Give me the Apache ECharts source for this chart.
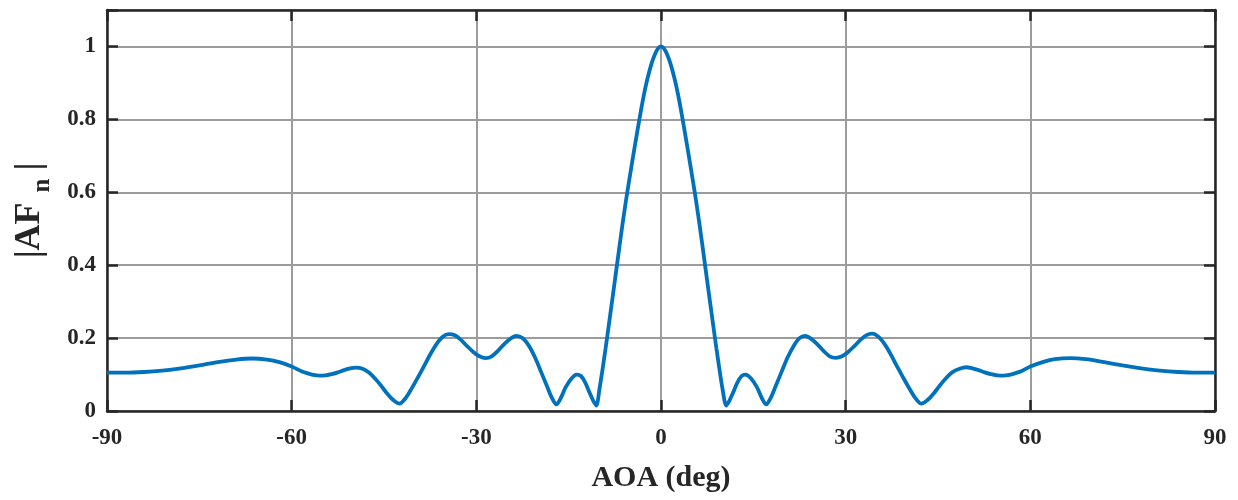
<!DOCTYPE html>
<html>
<head>
<meta charset="utf-8">
<script src="https://cdn.jsdelivr.net/npm/echarts@6/dist/echarts.min.js"></script>
<style>
html,body{margin:0;padding:0;background:#fff;}
#chart{width:1238px;height:500px;}
</style>
</head>
<body>
<div id="chart"></div>
<script>
// AOA (deg) sample positions, left half (negative angles)
var aoaLeft = [-90,-87,-84,-81,-78,-75,-72,-69,-66.5,-64,-62,-60,-58.5,-57.5,-56.5,-55.5,-54.5,-53.5,-52.5,-51.5,-50.5,-49.5,-48.5,-47.5,-46.5,-45.5,-44.5,-43.5,-42.5,-41.5,-40.5,-39.5,-38.5,-37.5,-36.5,-35.5,-34.5,-33.5,-32.5,-31.5,-30.5,-29.5,-28.5,-27.5,-26.5,-25.5,-24.5,-23.5,-22.5,-21.5,-20.5,-19.5,-18.5,-17.7,-17,-16.3,-15.5,-14.5,-13.7,-13,-12.3,-11.6,-11,-10.5,-10,-9.5,-9,-8.5,-8,-7.5,-7,-6.5,-6,-5.5,-5,-4.5,-4,-3.5,-3,-2.5,-2,-1.5,-1,-0.5];
// |AF_n| values, left half
var afnLeft = [0.105,0.105,0.107,0.111,0.117,0.125,0.134,0.141,0.144,0.141,0.134,0.122,0.11,0.104,0.099,0.097,0.098,0.101,0.106,0.112,0.117,0.119,0.116,0.106,0.09,0.07,0.048,0.03,0.02,0.035,0.062,0.092,0.123,0.155,0.183,0.203,0.211,0.208,0.195,0.178,0.162,0.15,0.145,0.15,0.165,0.183,0.198,0.206,0.2,0.18,0.148,0.108,0.067,0.035,0.018,0.035,0.065,0.09,0.1,0.096,0.078,0.05,0.028,0.015,0.06,0.114,0.172,0.233,0.295,0.357,0.42,0.482,0.542,0.598,0.65,0.702,0.752,0.801,0.848,0.89,0.925,0.955,0.978,0.994];
// peak
var aoaPeak = [0];
var afnPeak = [1.0];
// right half (positive angles)
var aoaRight = [0.5,1,1.5,2,2.5,3,3.5,4,4.5,5,5.5,6,6.5,7,7.5,8,8.5,9,9.5,10,10.6,11.1,11.7,12.4,13.1,13.7,14.6,15.6,16.4,17.1,17.8,18.6,19.6,20.6,21.6,22.5,23.4,24.4,25.4,26.4,27.4,28.4,29.4,30.4,31.4,32.4,33.4,34.3,35.3,36.3,37.3,38.3,39.3,40.3,41.3,42.3,43.3,44.3,45.3,46.3,47.3,48.5,49.6,50.6,51.6,52.6,53.6,54.6,55.6,56.6,57.6,58.6,60,62,64,66.5,69,72,75,78,81,84,87,90];
var afnRight = [0.994,0.978,0.955,0.925,0.89,0.848,0.801,0.752,0.702,0.65,0.598,0.542,0.482,0.42,0.357,0.295,0.233,0.172,0.114,0.06,0.015,0.028,0.05,0.078,0.096,0.1,0.09,0.065,0.035,0.018,0.035,0.067,0.108,0.148,0.18,0.2,0.206,0.198,0.183,0.165,0.15,0.146,0.15,0.162,0.178,0.195,0.208,0.212,0.204,0.184,0.156,0.124,0.093,0.063,0.036,0.02,0.03,0.048,0.07,0.09,0.106,0.116,0.12,0.117,0.112,0.106,0.101,0.098,0.097,0.099,0.104,0.11,0.122,0.134,0.142,0.145,0.142,0.134,0.125,0.117,0.111,0.107,0.105,0.105];
var xTicks = [-90,-60,-30,0,30,60,90];
var yTicks = [0,0.2,0.4,0.6,0.8,1];

var aoa = aoaLeft.concat(aoaPeak, aoaRight);
var afn = afnLeft.concat(afnPeak, afnRight);
var pts = aoa.map(function(x,i){return [x, afn[i]];});
var font = '"Liberation Serif","Times New Roman",serif';
var axisCol = '#262626';
var gridCol = '#9c9c9c';

var chart = echarts.init(document.getElementById('chart'));
chart.setOption({
  animation:false,
  backgroundColor:'#fff',
  grid:{left:107,right:23,top:10,bottom:89},
  xAxis:[{
    type:'value',min:-90,max:90,interval:30,position:'bottom',
    name:'AOA (deg)',nameLocation:'middle',nameGap:52,
    nameTextStyle:{fontFamily:font,fontWeight:'bold',fontSize:30,color:axisCol},
    axisLine:{show:true,onZero:false,lineStyle:{color:axisCol,width:2.5}},
    axisTick:{show:true,inside:true,length:11,lineStyle:{color:axisCol,width:2.5}},
    axisLabel:{fontFamily:font,fontWeight:'bold',fontSize:23,color:axisCol,margin:16,
      formatter:function(v){return xTicks.indexOf(v)>=0?String(v):'';}},
    splitLine:{show:true,lineStyle:{color:gridCol,width:2}}
  },{
    type:'value',min:-90,max:90,interval:30,position:'top',
    axisLine:{show:true,onZero:false,lineStyle:{color:axisCol,width:2.5}},
    axisTick:{show:true,inside:true,length:11,lineStyle:{color:axisCol,width:2.5}},
    axisLabel:{show:false},splitLine:{show:false}
  }],
  yAxis:[{
    type:'value',min:0,max:1.1,interval:0.2,position:'left',
    name:'{a||AF}{s|n}{a||}',nameLocation:'middle',nameGap:52,nameRotate:90,
    nameTextStyle:{fontFamily:font,fontWeight:'bold',fontSize:36,color:axisCol,
      rich:{
        a:{fontFamily:font,fontWeight:'bold',fontSize:36,color:axisCol},
        s:{fontFamily:font,fontWeight:'bold',fontSize:25,color:axisCol,padding:[26,8,0,10]}
      }},
    axisLine:{show:true,onZero:false,lineStyle:{color:axisCol,width:2.5}},
    axisTick:{show:true,inside:true,length:11,lineStyle:{color:axisCol,width:2.5}},
    axisLabel:{fontFamily:font,fontWeight:'bold',fontSize:23,color:axisCol,margin:11,
      formatter:function(v){
        var r=Math.round(v*10)/10;
        return yTicks.indexOf(r)>=0 && Math.abs(v-r)<1e-6 ? String(r) : '';}},
    splitLine:{show:true,lineStyle:{color:gridCol,width:2}}
  },{
    type:'value',min:0,max:1.1,interval:0.2,position:'right',
    axisLine:{show:true,onZero:false,lineStyle:{color:axisCol,width:2.5}},
    axisTick:{show:true,inside:true,length:11,lineStyle:{color:axisCol,width:2.5}},
    axisLabel:{show:false},splitLine:{show:false}
  }],
  series:[{
    type:'line',data:pts,xAxisIndex:0,yAxisIndex:0,
    smooth:0.3,showSymbol:false,
    lineStyle:{color:'#0072BD',width:3.8},
    z:5
  }]
});
</script>
</body>
</html>
